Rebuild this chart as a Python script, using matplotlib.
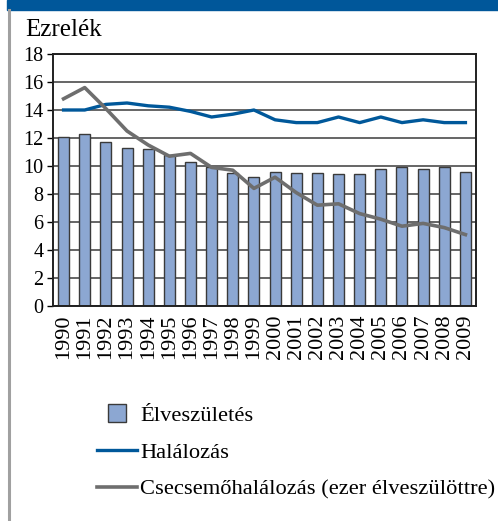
import matplotlib
matplotlib.use('Agg')
import matplotlib.pyplot as plt
from matplotlib.patches import Rectangle
from matplotlib.lines import Line2D
from matplotlib.legend_handler import HandlerPatch
import numpy as np

years = [str(y) for y in range(1990, 2010)]
births = [12.1, 12.3, 11.7, 11.3, 11.2, 10.8, 10.3, 9.9, 9.5, 9.2,
          9.6, 9.5, 9.5, 9.4, 9.4, 9.8, 9.9, 9.8, 9.9, 9.6]
deaths = [14.0, 14.0, 14.4, 14.5, 14.3, 14.2, 13.9, 13.5, 13.7, 14.0,
          13.3, 13.1, 13.1, 13.5, 13.1, 13.5, 13.1, 13.3, 13.1, 13.1]
infant = [14.8, 15.6, 14.1, 12.5, 11.5, 10.7, 10.9, 9.9, 9.7, 8.4,
          9.2, 8.1, 7.2, 7.3, 6.6, 6.2, 5.7, 5.9, 5.6, 5.1]
labels = ['Élveszületés', 'Halálozás', 'Csecsemőhalálozás (ezer élveszülöttre)']
ylabel = 'Ezrelék'
yticks = [0, 2, 4, 6, 8, 10, 12, 14, 16, 18]

BAR_C = '#8CA7D2'
BLUE = '#00589A'
GRAY = '#6E6E6E'
FONT = 'Liberation Serif'
plt.rcParams['font.family'] = [FONT, 'DejaVu Serif']

W, H = 498, 521
fig = plt.figure(figsize=(W / 100, H / 100), dpi=100)

# decorations: top band and left rule
fig.patches.append(Rectangle((7 / W, 1 - 10 / H), 1, 10 / H, transform=fig.transFigure,
                             color='#00579A', zorder=0))
fig.add_artist(Line2D([8.5 / W, 8.5 / W], [0, 1 - 10 / H], transform=fig.transFigure,
                      color='#A0A0A0', lw=2.2))

ax = fig.add_axes([53 / W, 1 - 306 / H, (476 - 53) / W, (306 - 54) / H])
x = np.arange(len(years))
bars = ax.bar(x, births, width=0.52, color=BAR_C, edgecolor='#3A3A3A', linewidth=1.0,
              zorder=2, label=labels[0])
l1, = ax.plot(x, deaths, color=BLUE, lw=2.4, zorder=3, label=labels[1])
l2, = ax.plot(x, infant, color=GRAY, lw=2.6, zorder=3, label=labels[2])

ax.set_xlim(-0.5, len(years) - 0.5)
ax.set_ylim(0, 18)
ax.set_yticks(yticks)
ax.set_yticklabels([str(v) for v in yticks], fontsize=14.5, fontfamily=FONT)
ax.set_xticks(x)
ax.set_xticklabels(years, rotation=90, fontsize=16, va='top', ha='center', fontfamily=FONT)
ax.tick_params(axis='x', length=0, pad=6)
ax.tick_params(axis='y', length=4, width=1, pad=3, direction='out')
ax.set_axisbelow(True)
ax.yaxis.grid(True, color='#3C3C3C', lw=1.1)
for s in ax.spines.values():
    s.set_color('#202020')
    s.set_linewidth(1.4)

fig.text(25 / W, 1 - 36 / H, ylabel, fontsize=18, ha='left', va='baseline', fontfamily=FONT)


def square_patch(legend, orig_handle, xdescent, ydescent, width, height, fontsize):
    s = 18.0 * 72 / 100
    cx = -xdescent + width / 2
    cy = -ydescent + height / 2
    return Rectangle((cx - s / 2, cy - s / 2), s, s)


bar_handle = bars.patches[0]
leg = fig.legend(handles=[bar_handle, l1, l2], labels=labels, loc='upper left',
                 bbox_to_anchor=(97 / W, 1 - 405 / H), frameon=False,
                 prop={'family': FONT, 'size': 16.2},
                 handlelength=1.77, handletextpad=0.15,
                 labelspacing=0.72, borderpad=0, borderaxespad=0,
                 handler_map={bar_handle: HandlerPatch(patch_func=square_patch)})

fig.savefig('out.png', dpi=100)
